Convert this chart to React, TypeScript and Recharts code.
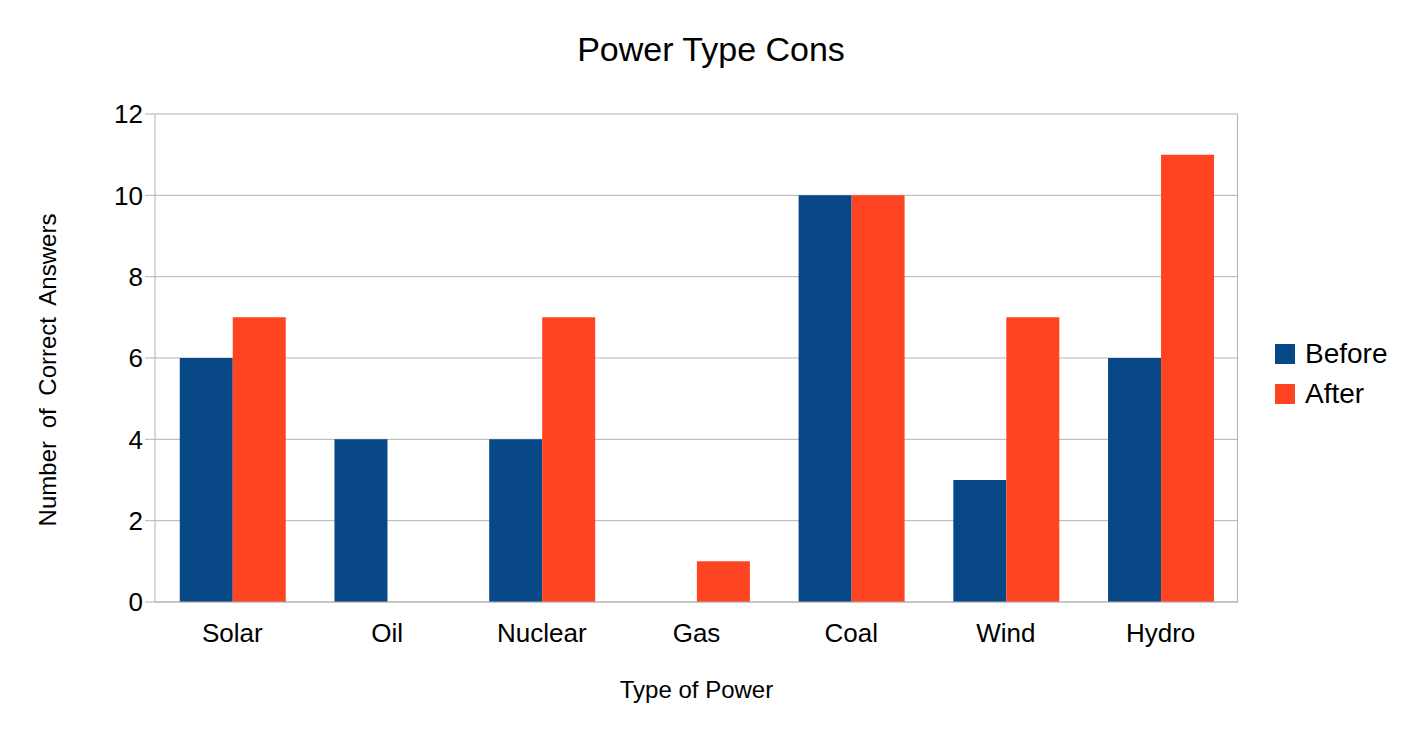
import { BarChart, Bar, XAxis, YAxis, CartesianGrid } from 'recharts'

const categories = ['Solar', 'Oil', 'Nuclear', 'Gas', 'Coal', 'Wind', 'Hydro']
const before = [6, 4, 4, 0, 10, 3, 6]
const after = [7, 0, 7, 1, 10, 7, 11]
const yTicks = [0, 2, 4, 6, 8, 10, 12]

const BLUE = '#084887'
const RED = '#ff4422'
const FONT = '"Liberation Sans", Arial, sans-serif'

const data = categories.map((name, i) => ({ name, before: before[i], after: after[i] }))

export default function App() {
  return (
    <div style={{ position: 'relative', width: 1398, height: 722, fontFamily: FONT, color: '#000' }}>
      <div style={{ position: 'absolute', top: 22, left: 0, width: 1406, textAlign: 'center', fontSize: 34 }}>
        Power Type Cons
      </div>
      <BarChart
        width={1398}
        height={722}
        data={data}
        margin={{ top: 106, right: 168, bottom: 78, left: 79 }}
        barCategoryGap="16%"
        barGap={0}
      >
        <CartesianGrid vertical={false} stroke="#b3b3b3" />
        <XAxis
          dataKey="name"
          stroke="#b3b3b3"
          tickLine={false}
          height={50}
          tick={{ fill: '#000', fontSize: 26, fontFamily: FONT, dy: 14 }}
        />
        <YAxis
          domain={[0, 12]}
          ticks={yTicks}
          stroke="#b3b3b3"
          tickSize={10}
          width={68}
          tick={{ fill: '#000', fontSize: 26, fontFamily: FONT }}
        />
        <Bar dataKey="before" fill={BLUE} isAnimationActive={false} />
        <Bar dataKey="after" fill={RED} isAnimationActive={false} />
      </BarChart>
      <div style={{ position: 'absolute', left: 1229, top: 106, width: 1, height: 488, background: '#b3b3b3' }} />
      <div
        style={{
          position: 'absolute', left: 40, top: 362, fontSize: 24, whiteSpace: 'nowrap',
          transform: 'translate(-50%, -50%) rotate(-90deg)', wordSpacing: 6,
        }}
      >
        Number of Correct Answers
      </div>
      <div style={{ position: 'absolute', top: 668, left: 147, width: 1083, textAlign: 'center', fontSize: 24 }}>
        Type of Power
      </div>
      <div style={{ position: 'absolute', left: 1267, top: 326, fontSize: 28, lineHeight: '40px' }}>
        <div style={{ display: 'flex', alignItems: 'center' }}>
          <span style={{ width: 20, height: 20, background: BLUE, marginRight: 10 }} />Before
        </div>
        <div style={{ display: 'flex', alignItems: 'center' }}>
          <span style={{ width: 20, height: 20, background: RED, marginRight: 10 }} />After
        </div>
      </div>
    </div>
  )
}
